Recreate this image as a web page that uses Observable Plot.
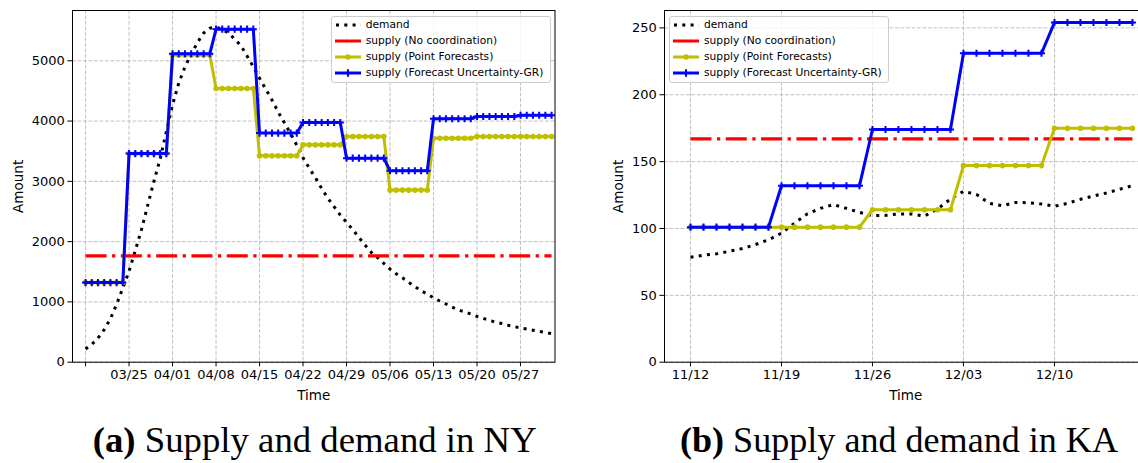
<!DOCTYPE html>
<html>
<head>
<meta charset="utf-8">
<script src="https://cdn.jsdelivr.net/npm/d3@7"></script>
<script src="https://cdn.jsdelivr.net/npm/@observablehq/plot@0.6"></script>
<style>
  html, body { margin: 0; padding: 0; background: #fff; }
  #root { position: relative; width: 1138px; height: 463px; overflow: hidden; background: #fff; }
  .panel { position: absolute; top: 0; }
  .panel svg { max-width: none !important; }
  .legend { position: absolute; box-sizing: border-box; border: 1px solid #cccccc; border-radius: 3px;
            background: rgba(255,255,255,0.8); font-family: "DejaVu Sans", sans-serif; font-size: 10.7px; color: #000; }
  .legend .row { position: absolute; left: 0; height: 16px; width: 100%; }
  .legend .row svg { position: absolute; left: 2px; top: 3px; }
  .legend .row span { position: absolute; left: 34px; top: 0; line-height: 16px; white-space: nowrap; }
  #captions { position: absolute; left: 0; top: 0; }
</style>
</head>
<body>
<div id="root"></div>
<script>
// ---------------- data ----------------
const legendLabels = ["demand", "supply (No coordination)", "supply (Point Forecasts)", "supply (Forecast Uncertainty-GR)"];
const captionTitles = [["(a)", " Supply and demand in NY"], ["(b)", " Supply and demand in KA"]];
const axisLabels = { x: "Time", y: "Amount" };

// NY (daily, from 2020-03-18)
const nyStart = "2020-03-18";
const nyDemand = [220,295,400,540,720,960,1230,1510,1850,2200,
  2600,3000,3370,3820,4270,4630,4900,5110,5300,5460,
  5540,5560,5520,5460,5360,5250,5080,4900,4710,4530,
  4350,4150,3970,3790,3600,3390,3220,3060,2880,2720,
  2580,2440,2320,2200,2070,1940,1820,1735,1640,1545,
  1465,1400,1325,1255,1185,1130,1070,1015,965,912,
  868,832,800,760,727,693,665,642,614,590,
  570,550,530,512,493,475];
const nyNoCoord = 1765;
const nyPoint = [1320,1320,1320,1320,1320,1320,1320,
  3460,3460,3460,3460,3460,3460,3460,
  5095,5095,5095,5095,5095,5095,5095,
  4540,4540,4540,4540,4540,4540,4540,
  3425,3425,3425,3425,3425,3425,3425,
  3605,3605,3605,3605,3605,3605,3605,
  3745,3745,3745,3745,3745,3745,3745,
  2855,2855,2855,2855,2855,2855,2855,
  3715,3715,3715,3715,3715,3715,3715,
  3745,3745,3745,3745,3745,3745,3745,
  3745,3745,3745,3745,3745,3745];
const nyUnc = [1320,1320,1320,1320,1320,1320,1320,
  3460,3460,3460,3460,3460,3460,3460,
  5115,5115,5115,5115,5115,5115,5115,
  5525,5525,5525,5525,5525,5525,5525,
  3800,3800,3800,3800,3800,3800,3800,
  3975,3975,3975,3975,3975,3975,3975,
  3385,3385,3385,3385,3385,3385,3385,
  3175,3175,3175,3175,3175,3175,3175,
  4040,4040,4040,4040,4040,4040,4040,
  4075,4075,4075,4075,4075,4075,4075,
  4095,4095,4095,4095,4095,4095];
const nyXTicks = ["2020-03-18","2020-03-25","2020-04-01","2020-04-08","2020-04-15","2020-04-22","2020-04-29","2020-05-06","2020-05-13","2020-05-20","2020-05-27"];
const nyXTickLabels = ["","03/25","04/01","04/08","04/15","04/22","04/29","05/06","05/13","05/20","05/27"];
const nyYTicks = [0,1000,2000,3000,4000,5000];
const nyXDomain = ["2020-03-15T21:36Z","2020-06-01T13:12Z"];
const nyYDomain = [0, 5834];

// KA (daily, from 2020-11-12)
const kaStart = "2020-11-12";
const kaDemand = [78.5,80,81,83,85,88,91.5,96.5,104,111,
  115,117.9,115,112,109.6,109.8,110.8,110.8,109.3,114.5,
  122,127.8,125.5,118.8,117,119.4,119.3,118.3,116.6,118.8,
  121.8,124.3,126.5,129.3,132];
const kaNoCoord = 167;
const kaPoint = [101,101,101,101,101,101,101,
  101,101,101,101,101,101,101,
  114,114,114,114,114,114,114,
  147,147,147,147,147,147,147,
  175,175,175,175,175,175,175];
const kaUnc = [101,101,101,101,101,101,101,
  132,132,132,132,132,132,132,
  174,174,174,174,174,174,174,
  231,231,231,231,231,231,231,
  254,254,254,254,254,254,254];
const kaXTicks = ["2020-11-12","2020-11-19","2020-11-26","2020-12-03","2020-12-10"];
const kaXTickLabels = ["11/12","11/19","11/26","12/03","12/10"];
const kaYTicks = [0,50,100,150,200,250];
const kaXDomain = ["2020-11-10T00:00Z","2020-12-17T02:52Z"];
const kaYDomain = [0, 263];

// ---------------- styles ----------------
const C = { demand: "#000000", noCoord: "#ff0000", point: "#bfbf00", unc: "#0000ff", grid: "#b0b0b0" };
const DOTS = "3,5.3";

function makeRows(start, demand, point, unc) {
  const dates = d3.utcDay.range(new Date(start), d3.utcDay.offset(new Date(start), demand.length));
  return dates.map((date, i) => ({ date, demand: demand[i], point: point[i], unc: unc[i] }));
}

function panel(o) {
  const rows = makeRows(o.start, o.demand, o.point, o.unc);
  const ticks = o.xTicks.map(s => new Date(s));
  const labelMap = new Map(ticks.map((t, i) => [+t, o.xTickLabels[i]]));
  const gridStyle = { stroke: C.grid, strokeOpacity: 1, strokeWidth: 0.8, strokeDasharray: "3.8,1.7" };
  const svg = Plot.plot({
    width: o.width, height: 400,
    marginLeft: o.marginLeft, marginRight: 15.5, marginTop: 10, marginBottom: 38.3,
    style: { fontFamily: "DejaVu Sans", fontSize: "13px", color: "#000", background: "transparent", overflow: "visible" },
    x: { type: "utc", domain: o.xDomain.map(s => new Date(s)) },
    y: { domain: o.yDomain },
    marks: [
      Plot.gridX(ticks, gridStyle),
      Plot.gridY(o.yTicks, gridStyle),
      Plot.line(rows, { x: "date", y: "demand", stroke: C.demand, strokeWidth: 3, strokeDasharray: DOTS, strokeLinecap: "butt" }),
      Plot.line(rows, { x: "date", y: () => o.noCoord, stroke: C.noCoord, strokeWidth: 3.3, strokeDasharray: "21,5.5,3.3,5.5", strokeLinecap: "butt" }),
      Plot.line(rows, { x: "date", y: "point", stroke: C.point, strokeWidth: 3 }),
      Plot.dot(rows, { x: "date", y: "point", symbol: "circle", r: 2.8, fill: C.point, stroke: "none" }),
      Plot.line(rows, { x: "date", y: "unc", stroke: C.unc, strokeWidth: 3 }),
      Plot.dot(rows, { x: "date", y: "unc", symbol: "plus", r: 2.4, stroke: C.unc, strokeWidth: 2, fill: "none" }),
      Plot.frame({ stroke: "#000", strokeWidth: 1 }),
      Plot.axisX(ticks, { tickSize: 4.6, tickPadding: 3, label: null, tickFormat: d => labelMap.get(+d), fontSize: 13 }),
      Plot.axisY(o.yTicks, { tickSize: 4.6, tickPadding: 3, label: null, tickFormat: d => String(d), fontSize: 13 }),
      Plot.text([axisLabels.y], { text: d => d, frameAnchor: "left", dx: o.yLabelDx, rotate: -90, lineAnchor: "middle", textAnchor: "middle", fontSize: 13.5 }),
      Plot.text([axisLabels.x], { text: d => d, frameAnchor: "bottom", dy: 33, lineAnchor: "middle", fontSize: 13.5 })
    ]
  });
  svg.style.maxWidth = "none";
  return svg;
}

function legend(left, top) {
  const div = document.createElement("div");
  div.className = "legend";
  Object.assign(div.style, { left: left + "px", top: top + "px", width: "220px", height: "67px" });
  const ns = "http://www.w3.org/2000/svg";
  legendLabels.forEach((lab, i) => {
    const row = document.createElement("div");
    row.className = "row";
    row.style.top = (i * 16) + "px";
    const svg = document.createElementNS(ns, "svg");
    svg.setAttribute("width", "28"); svg.setAttribute("height", "10");
    const line = document.createElementNS(ns, "line");
    line.setAttribute("x1", "1"); line.setAttribute("x2", "27");
    line.setAttribute("y1", "5"); line.setAttribute("y2", "5");
    const col = [C.demand, C.noCoord, C.point, C.unc][i];
    line.setAttribute("stroke", col);
    line.setAttribute("stroke-width", "3");
    if (i === 0) { line.setAttribute("stroke-dasharray", DOTS); line.setAttribute("x1", "2"); }
    svg.appendChild(line);
    if (i === 2) {
      const c = document.createElementNS(ns, "circle");
      c.setAttribute("cx", "14"); c.setAttribute("cy", "5"); c.setAttribute("r", "2.8"); c.setAttribute("fill", col);
      svg.appendChild(c);
    }
    if (i === 3) {
      const p = document.createElementNS(ns, "path");
      p.setAttribute("d", "M14,1.3V8.7M10.3,5H17.7"); p.setAttribute("stroke", col); p.setAttribute("stroke-width", "2");
      svg.appendChild(p);
    }
    const span = document.createElement("span");
    span.textContent = lab;
    row.appendChild(svg); row.appendChild(span);
    div.appendChild(row);
  });
  return div;
}

const root = document.getElementById("root");

const left = document.createElement("div");
left.className = "panel"; left.style.left = "0px"; left.style.width = "570px";
left.appendChild(panel({ start: nyStart, demand: nyDemand, noCoord: nyNoCoord, point: nyPoint, unc: nyUnc,
  xTicks: nyXTicks, xTickLabels: nyXTickLabels, yTicks: nyYTicks, xDomain: nyXDomain, yDomain: nyYDomain,
  width: 570, marginLeft: 72, yLabelDx: -54 }));
root.appendChild(left);

const right = document.createElement("div");
right.className = "panel"; right.style.left = "570px"; right.style.width = "592px";
right.appendChild(panel({ start: kaStart, demand: kaDemand, noCoord: kaNoCoord, point: kaPoint, unc: kaUnc,
  xTicks: kaXTicks, xTickLabels: kaXTickLabels, yTicks: kaYTicks, xDomain: kaXDomain, yDomain: kaYDomain,
  width: 592, marginLeft: 94, yLabelDx: -46 }));
root.appendChild(right);

root.appendChild(legend(330.7, 15.7));
root.appendChild(legend(669, 15.7));

// captions
const cap = d3.select(root).append("svg").attr("id", "captions").attr("width", 1138).attr("height", 463);
[[92.7, 444], [680, 438]].forEach(([x0, w], i) => {
  const t = cap.append("text").attr("x", x0).attr("y", 452)
    .attr("font-family", "Liberation Serif, serif").attr("font-size", 36)
    .attr("textLength", w).attr("lengthAdjust", "spacingAndGlyphs");
  t.append("tspan").attr("font-weight", "bold").text(captionTitles[i][0]);
  t.append("tspan").text(captionTitles[i][1]);
});
</script>
</body>
</html>
